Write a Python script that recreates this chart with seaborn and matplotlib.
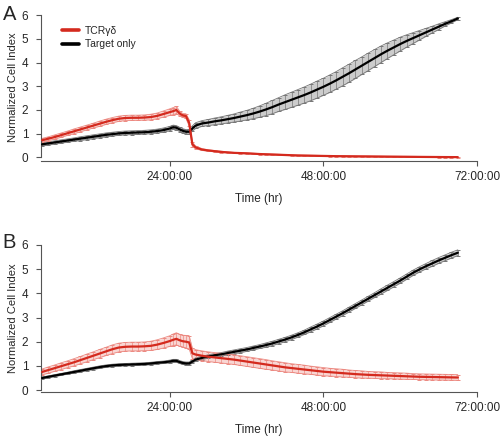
import matplotlib
matplotlib.use("Agg")
import matplotlib.pyplot as plt
import pandas as pd
import seaborn as sns

# time points (hours) shared by all series
time_h = (
    list(range(4, 25))
    + [24.5, 25, 25.5, 26, 26.5, 27, 27.5, 28]
    + list(range(29, 70))
)

# panel A
a_tcr_mean = [
    0.72, 0.79, 0.86, 0.94, 1.02, 1.10, 1.18, 1.26, 1.34, 1.42, 1.50, 1.57, 1.63, 1.66, 1.67,
    1.67, 1.68, 1.70, 1.75, 1.83, 1.91,
    1.95, 2.00, 1.85, 1.77, 1.74, 1.45, 0.55, 0.42,
    0.33, 0.29, 0.26, 0.23, 0.21, 0.19, 0.18, 0.17, 0.155, 0.14, 0.13, 0.12, 0.11, 0.10, 0.09,
    0.08, 0.075, 0.07, 0.065, 0.06, 0.055, 0.05, 0.048, 0.045, 0.042, 0.04, 0.038, 0.035, 0.033,
    0.03, 0.028, 0.026, 0.024, 0.022, 0.02, 0.018, 0.016, 0.014, 0.012, 0.011, 0.01,
]
a_tcr_sd = [
    0.08, 0.08, 0.09, 0.09, 0.09, 0.10, 0.10, 0.10, 0.10, 0.11, 0.11, 0.11, 0.11, 0.11, 0.11,
    0.11, 0.11, 0.12, 0.12, 0.13, 0.14,
    0.15, 0.15, 0.10, 0.08, 0.10, 0.14, 0.10, 0.06,
    0.04, 0.03, 0.03, 0.03, 0.02, 0.02, 0.02, 0.02, 0.02, 0.02, 0.02, 0.02, 0.02, 0.02, 0.02,
    0.02, 0.02, 0.02, 0.02, 0.02, 0.02, 0.02, 0.02, 0.02, 0.02, 0.02, 0.02, 0.02, 0.02,
    0.02, 0.02, 0.02, 0.02, 0.02, 0.02, 0.02, 0.02, 0.02, 0.02, 0.02, 0.02,
]
a_target_mean = [
    0.55, 0.59, 0.63, 0.67, 0.71, 0.75, 0.79, 0.83, 0.87, 0.91, 0.95, 0.98, 1.01, 1.03, 1.04,
    1.05, 1.06, 1.08, 1.11, 1.15, 1.22,
    1.27, 1.25, 1.18, 1.12, 1.08, 1.08, 1.22, 1.34,
    1.43, 1.47, 1.52, 1.56, 1.61, 1.66, 1.72, 1.78, 1.85, 1.93, 2.02, 2.12, 2.23, 2.33, 2.43,
    2.53, 2.63, 2.74, 2.86, 2.98, 3.11, 3.25, 3.40, 3.55, 3.71, 3.87, 4.03, 4.19, 4.35,
    4.50, 4.64, 4.78, 4.91, 5.03, 5.15, 5.27, 5.39, 5.51, 5.63, 5.74, 5.86,
]
a_target_sd = [
    0.07, 0.07, 0.07, 0.07, 0.07, 0.07, 0.08, 0.08, 0.08, 0.08, 0.08, 0.08, 0.08, 0.08, 0.08,
    0.08, 0.08, 0.08, 0.08, 0.09, 0.09,
    0.09, 0.09, 0.09, 0.09, 0.09, 0.10, 0.11, 0.12,
    0.12, 0.13, 0.14, 0.15, 0.16, 0.17, 0.19, 0.20, 0.22, 0.24, 0.26, 0.28, 0.29, 0.31, 0.32,
    0.33, 0.34, 0.35, 0.36, 0.36, 0.37, 0.37, 0.38, 0.38, 0.38, 0.37, 0.37, 0.36, 0.35,
    0.33, 0.31, 0.29, 0.26, 0.23, 0.20, 0.17, 0.14, 0.12, 0.09, 0.07, 0.05,
]

# panel B
b_tcr_mean = [
    0.75, 0.83, 0.91, 0.99, 1.07, 1.15, 1.24, 1.33, 1.42, 1.51, 1.60, 1.69, 1.76, 1.79, 1.80,
    1.80, 1.81, 1.83, 1.88, 1.95, 2.03,
    2.08, 2.12, 2.06, 2.02, 2.00, 1.97, 1.52, 1.47,
    1.42, 1.38, 1.35, 1.32, 1.29, 1.26, 1.22, 1.18, 1.14, 1.10, 1.06, 1.02, 0.98, 0.94, 0.91,
    0.88, 0.85, 0.82, 0.79, 0.76, 0.74, 0.72, 0.70, 0.68, 0.66, 0.645, 0.63, 0.62, 0.61,
    0.60, 0.59, 0.58, 0.57, 0.56, 0.55, 0.545, 0.54, 0.535, 0.53, 0.525, 0.52,
]
b_tcr_sd = [
    0.12, 0.13, 0.13, 0.14, 0.14, 0.15, 0.15, 0.16, 0.16, 0.17, 0.17, 0.18, 0.18, 0.18, 0.18,
    0.18, 0.18, 0.19, 0.20, 0.21, 0.22,
    0.24, 0.25, 0.25, 0.25, 0.26, 0.28, 0.22, 0.20,
    0.20, 0.20, 0.20, 0.20, 0.20, 0.20, 0.20, 0.20, 0.20, 0.20, 0.20, 0.19, 0.19, 0.19, 0.18,
    0.18, 0.18, 0.17, 0.17, 0.17, 0.16, 0.16, 0.16, 0.15, 0.15, 0.15, 0.14, 0.14, 0.14,
    0.13, 0.13, 0.13, 0.13, 0.12, 0.12, 0.12, 0.12, 0.12, 0.12, 0.12, 0.12,
]
b_target_mean = [
    0.50, 0.55, 0.60, 0.65, 0.70, 0.75, 0.80, 0.85, 0.90, 0.95, 0.99, 1.02, 1.04, 1.05, 1.06,
    1.07, 1.08, 1.10, 1.13, 1.15, 1.18,
    1.21, 1.21, 1.16, 1.12, 1.10, 1.10, 1.18, 1.26,
    1.33, 1.39, 1.44, 1.48, 1.53, 1.58, 1.63, 1.68, 1.74, 1.80, 1.86, 1.93, 2.01, 2.09, 2.18,
    2.28, 2.39, 2.51, 2.63, 2.76, 2.90, 3.04, 3.18, 3.33, 3.48, 3.63, 3.78, 3.93, 4.08,
    4.23, 4.38, 4.53, 4.69, 4.85, 4.99, 5.12, 5.24, 5.36, 5.47, 5.58, 5.68,
]
b_target_sd = [
    0.04, 0.04, 0.04, 0.04, 0.04, 0.05, 0.05, 0.05, 0.05, 0.05, 0.05, 0.05, 0.05, 0.05, 0.05,
    0.05, 0.05, 0.05, 0.05, 0.05, 0.06,
    0.06, 0.06, 0.06, 0.06, 0.06, 0.06, 0.06, 0.07,
    0.07, 0.07, 0.07, 0.07, 0.08, 0.08, 0.08, 0.08, 0.08, 0.08, 0.09, 0.09, 0.09, 0.09, 0.09,
    0.09, 0.09, 0.10, 0.10, 0.10, 0.10, 0.10, 0.10, 0.10, 0.10, 0.10, 0.10, 0.10, 0.11,
    0.11, 0.11, 0.11, 0.11, 0.11, 0.11, 0.11, 0.12, 0.12, 0.12, 0.12, 0.12,
]

groups = ["Target only", "TCR\u03b3\u03b4"]
x_ticks = [24, 48, 72]
x_tick_labels = ["24:00:00", "48:00:00", "72:00:00"]
y_ticks = [0, 1, 2, 3, 4, 5, 6]

RED = "#d42a1e"
RED_BAR = "#ec8a82"
RED_FILL = "#f9d6d3"
BLACK = "#000000"
GRAY_BAR = "#777777"
GRAY_FILL = "#cccccc"


def make_frame(target_mean, target_sd, tcr_mean, tcr_sd) -> pd.DataFrame:
    parts = []
    for name, m, s in [(groups[0], target_mean, target_sd), (groups[1], tcr_mean, tcr_sd)]:
        parts.append(pd.DataFrame({"time": time_h, "mean": m, "sd": s, "group": name}))
    return pd.concat(parts, ignore_index=True)


def draw_panel(ax, df, letter, letter_y, ylim, show_legend):
    styles = {
        groups[0]: (BLACK, GRAY_BAR, GRAY_FILL),
        groups[1]: (RED, RED_BAR, RED_FILL),
    }
    for g in groups:
        d = df[df["group"] == g]
        _, bar_c, fill_c = styles[g]
        lo = d["mean"] - d["sd"]
        hi = d["mean"] + d["sd"]
        ax.fill_between(d["time"], lo, hi, color=fill_c, lw=0, zorder=1)
        ax.errorbar(d["time"], d["mean"], yerr=d["sd"], fmt="none", ecolor=bar_c,
                    elinewidth=0.5, capsize=1.6, capthick=0.7, zorder=2)
        ax.plot(d["time"], lo, color=bar_c, lw=0.6, zorder=2)
        ax.plot(d["time"], hi, color=bar_c, lw=0.6, zorder=2)

    sns.lineplot(data=df, x="time", y="mean", hue="group", hue_order=groups,
                 palette={groups[0]: BLACK, groups[1]: RED}, linewidth=1.6,
                 ax=ax, legend=show_legend, zorder=3)

    ax.set_xlim(3.8, 72)
    ax.set_ylim(*ylim)
    ax.set_xticks(x_ticks)
    ax.set_xticklabels(x_tick_labels)
    ax.set_yticks(y_ticks)
    ax.spines["top"].set_visible(False)
    ax.spines["right"].set_visible(False)
    ax.spines["left"].set_bounds(0, 6)
    ax.spines["bottom"].set_bounds(3.8, 72)
    for sp in ("left", "bottom"):
        ax.spines[sp].set_color("#555555")
        ax.spines[sp].set_linewidth(0.8)
    ax.tick_params(axis="both", direction="out", length=3.5, width=0.8,
                   color="#555555", labelsize=8.5)
    ax.tick_params(axis="x", pad=4)
    ax.tick_params(axis="y", pad=5.5)
    ax.set_xlabel("Time (hr)", fontsize=8.5, labelpad=7)
    ax.set_ylabel("Normalized Cell Index", fontsize=8, labelpad=3)
    ax.text(-0.087, letter_y, letter, transform=ax.transAxes, fontsize=14.5,
            ha="left", va="baseline")

    if show_legend:
        handles, labels = ax.get_legend_handles_labels()
        order = [labels.index(groups[1]), labels.index(groups[0])]
        handles = [handles[i] for i in order]
        labels = [labels[i] for i in order]
        leg = ax.legend(handles, labels, loc="upper left", bbox_to_anchor=(0.028, 0.985),
                        frameon=False, fontsize=7.5, handlelength=1.6,
                        handletextpad=0.6, labelspacing=0.35)
        for line in leg.get_lines():
            line.set_linewidth(2.6)


def main() -> int:
    sns.set_style("ticks")
    plt.rcParams["font.family"] = ["Liberation Sans", "DejaVu Sans"]

    fig = plt.figure(figsize=(5.0, 4.38), dpi=100)
    ax_a = fig.add_axes([0.0816, 0.6326, 0.8724, 0.3356])
    ax_b = fig.add_axes([0.0816, 0.1050, 0.8724, 0.3384])

    df_a = make_frame(a_target_mean, a_target_sd, a_tcr_mean, a_tcr_sd)
    df_b = make_frame(b_target_mean, b_target_sd, b_tcr_mean, b_tcr_sd)

    draw_panel(ax_a, df_a, "A", 0.962, (-0.15, 6.05), True)
    draw_panel(ax_b, df_b, "B", 0.97, (-0.08, 6.05), False)

    fig.savefig("out.png", dpi=100)
    plt.close(fig)
    return 0


if __name__ == "__main__":
    raise SystemExit(main())
